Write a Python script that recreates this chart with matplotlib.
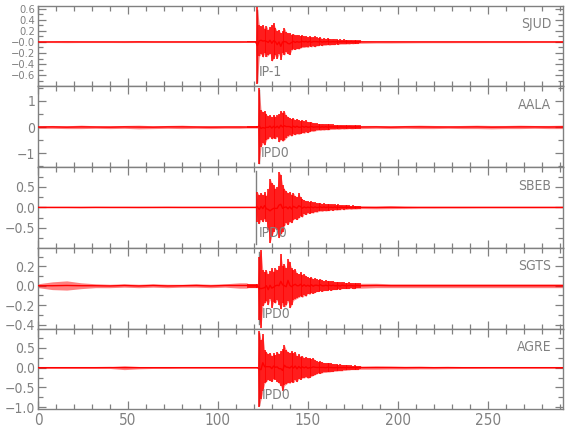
import numpy as np
import matplotlib
matplotlib.use("Agg")
import matplotlib.pyplot as plt
from matplotlib.ticker import MultipleLocator

plt.rcParams['font.family'] = ['Liberation Sans Narrow', 'DejaVu Sans']
plt.rcParams['font.stretch'] = 'condensed'

# sample times (s): sparse before/after the event, 1 s through the coda
t = np.concatenate([np.arange(0, 113, 8), np.arange(116, 180, 1), np.arange(180, 293, 8)])

stations = ["SJUD", "AALA", "SBEB", "SGTS", "AGRE"]
pick_labels = ["IP-1", "IPD0", "IPD0", "IPD0", "IPD0"]
pick_times = [121.8, 122.9, 121.3, 123.0, 123.1]

# upper / lower trace envelopes
sjud_hi = [0.012, 0.012, 0.015, 0.012, 0.012, 0.012, 0.012, 0.014, 0.012, 0.012, 0.012, 0.012, 0.012, 0.012, 0.012,
           0.01, 0.01, 0.01, 0.01, 0.01, 0.01, 0.62, 0.30,
           0.28, 0.31, 0.24, 0.29, 0.22, 0.27, 0.30, 0.34,
           0.25, 0.20, 0.22, 0.16, 0.20, 0.25, 0.18, 0.16,
           0.16, 0.13, 0.15, 0.12, 0.13, 0.12, 0.11, 0.12,
           0.10, 0.11, 0.09, 0.10, 0.08, 0.09, 0.10, 0.08,
           0.07, 0.08, 0.06, 0.07, 0.06, 0.07, 0.06, 0.05,
           0.06, 0.05, 0.05, 0.04, 0.05, 0.04, 0.05, 0.04,
           0.04, 0.035, 0.04, 0.03, 0.035, 0.03, 0.03, 0.03,
           0.025, 0.02, 0.02, 0.018, 0.016, 0.015, 0.015, 0.014, 0.014, 0.013, 0.013, 0.013, 0.012, 0.012, 0.012]
sjud_lo = [-0.012, -0.012, -0.014, -0.012, -0.012, -0.012, -0.013, -0.012, -0.012, -0.012, -0.012, -0.012, -0.012, -0.012, -0.012,
           -0.01, -0.01, -0.01, -0.01, -0.01, -0.01, -0.75, -0.26,
           -0.22, -0.28, -0.20, -0.27, -0.24, -0.21, -0.35, -0.30,
           -0.24, -0.30, -0.22, -0.32, -0.20, -0.24, -0.18, -0.22,
           -0.23, -0.15, -0.13, -0.14, -0.12, -0.13, -0.11, -0.10,
           -0.10, -0.09, -0.10, -0.08, -0.09, -0.08, -0.09, -0.07,
           -0.07, -0.06, -0.07, -0.06, -0.06, -0.05, -0.06, -0.05,
           -0.05, -0.05, -0.04, -0.05, -0.04, -0.04, -0.04, -0.04,
           -0.035, -0.04, -0.03, -0.035, -0.03, -0.03, -0.03, -0.025,
           -0.025, -0.02, -0.02, -0.018, -0.016, -0.015, -0.015, -0.014, -0.014, -0.013, -0.013, -0.013, -0.012, -0.012, -0.012]

aala_hi = [0.05, 0.06, 0.05, 0.07, 0.05, 0.05, 0.06, 0.07, 0.05, 0.06, 0.07, 0.05, 0.05, 0.05, 0.05,
           0.04, 0.04, 0.04, 0.04, 0.04, 0.04, 0.04, 1.50,
           0.65, 0.58, 0.62, 0.48, 0.42, 0.45, 0.38, 0.47,
           0.40, 0.44, 0.50, 0.62, 0.55, 0.60, 0.45, 0.40,
           0.35, 0.30, 0.34, 0.28, 0.32, 0.26, 0.24, 0.27,
           0.22, 0.25, 0.20, 0.18, 0.20, 0.16, 0.15, 0.14,
           0.13, 0.12, 0.13, 0.11, 0.12, 0.10, 0.11, 0.10,
           0.10, 0.09, 0.09, 0.08, 0.09, 0.08, 0.08, 0.07,
           0.07, 0.08, 0.07, 0.06, 0.07, 0.06, 0.07, 0.06,
           0.06, 0.06, 0.05, 0.06, 0.07, 0.06, 0.05, 0.06, 0.07, 0.06, 0.06, 0.07, 0.06, 0.06, 0.07]
aala_lo = [-0.05, -0.05, -0.06, -0.06, -0.05, -0.06, -0.05, -0.07, -0.06, -0.05, -0.06, -0.05, -0.06, -0.05, -0.05,
           -0.04, -0.04, -0.04, -0.04, -0.04, -0.04, -0.04, -1.42,
           -0.76, -0.62, -0.70, -0.50, -0.45, -0.38, -0.46, -0.42,
           -0.45, -0.38, -0.58, -0.48, -0.55, -0.50, -0.42, -0.36,
           -0.32, -0.35, -0.28, -0.30, -0.26, -0.28, -0.25, -0.22,
           -0.24, -0.20, -0.22, -0.18, -0.16, -0.17, -0.15, -0.13,
           -0.12, -0.13, -0.11, -0.12, -0.10, -0.11, -0.10, -0.09,
           -0.09, -0.09, -0.08, -0.09, -0.08, -0.07, -0.08, -0.07,
           -0.07, -0.06, -0.07, -0.07, -0.06, -0.06, -0.06, -0.06,
           -0.06, -0.05, -0.06, -0.05, -0.06, -0.06, -0.05, -0.06, -0.06, -0.07, -0.06, -0.06, -0.05, -0.06, -0.06]

sbeb_hi = [0.012, 0.012, 0.012, 0.012, 0.014, 0.012, 0.012, 0.012, 0.012, 0.014, 0.012, 0.012, 0.012, 0.012, 0.012,
           0.01, 0.01, 0.01, 0.01, 0.01, 0.01, 0.37, 0.30,
           0.35, 0.30, 0.37, 0.28, 0.45, 0.70, 0.60, 0.55,
           0.45, 0.50, 0.86, 0.80, 0.55, 0.45, 0.40, 0.35,
           0.38, 0.30, 0.35, 0.28, 0.26, 0.34, 0.25, 0.20,
           0.18, 0.16, 0.15, 0.14, 0.15, 0.12, 0.13, 0.11,
           0.10, 0.11, 0.09, 0.10, 0.08, 0.09, 0.08, 0.08,
           0.07, 0.08, 0.06, 0.07, 0.06, 0.06, 0.05, 0.06,
           0.05, 0.05, 0.04, 0.05, 0.04, 0.04, 0.04, 0.035,
           0.03, 0.03, 0.035, 0.025, 0.02, 0.02, 0.018, 0.018, 0.016, 0.015, 0.015, 0.015, 0.015, 0.014, 0.014]
sbeb_lo = [-0.012, -0.012, -0.012, -0.014, -0.012, -0.012, -0.012, -0.013, -0.012, -0.012, -0.012, -0.012, -0.012, -0.012, -0.012,
           -0.01, -0.01, -0.01, -0.01, -0.01, -0.01, -0.35, -0.40,
           -0.30, -0.36, -0.28, -0.35, -0.55, -0.87, -0.70, -0.60,
           -0.50, -0.55, -0.75, -0.65, -0.60, -0.45, -0.38, -0.42,
           -0.35, -0.38, -0.30, -0.28, -0.30, -0.26, -0.22, -0.24,
           -0.16, -0.18, -0.14, -0.15, -0.13, -0.14, -0.11, -0.12,
           -0.10, -0.09, -0.10, -0.08, -0.09, -0.08, -0.08, -0.07,
           -0.08, -0.06, -0.07, -0.06, -0.06, -0.05, -0.06, -0.05,
           -0.05, -0.04, -0.05, -0.04, -0.04, -0.04, -0.035, -0.035,
           -0.03, -0.035, -0.03, -0.025, -0.02, -0.02, -0.018, -0.018, -0.016, -0.015, -0.015, -0.015, -0.015, -0.014, -0.014]

sgts_hi = [0.02, 0.04, 0.05, 0.03, 0.02, 0.015, 0.02, 0.015, 0.02, 0.015, 0.015, 0.02, 0.015, 0.02, 0.03,
           0.03, 0.02, 0.02, 0.02, 0.02, 0.02, 0.02, 0.30,
           0.37, 0.16, 0.14, 0.16, 0.12, 0.15, 0.18, 0.14,
           0.18, 0.16, 0.20, 0.33, 0.20, 0.22, 0.18, 0.27,
           0.24, 0.18, 0.16, 0.17, 0.13, 0.12, 0.14, 0.11,
           0.12, 0.10, 0.09, 0.08, 0.09, 0.07, 0.08, 0.07,
           0.06, 0.07, 0.06, 0.05, 0.06, 0.05, 0.05, 0.05,
           0.05, 0.04, 0.04, 0.04, 0.035, 0.04, 0.035, 0.03,
           0.03, 0.035, 0.03, 0.03, 0.025, 0.03, 0.03, 0.025,
           0.025, 0.025, 0.02, 0.02, 0.02, 0.02, 0.02, 0.02, 0.02, 0.02, 0.02, 0.02, 0.02, 0.02, 0.02]
sgts_lo = [-0.02, -0.04, -0.045, -0.03, -0.02, -0.02, -0.015, -0.02, -0.015, -0.02, -0.015, -0.015, -0.02, -0.015, -0.025,
           -0.025, -0.02, -0.02, -0.02, -0.02, -0.02, -0.02, -0.35,
           -0.43, -0.21, -0.18, -0.16, -0.20, -0.14, -0.23, -0.17,
           -0.18, -0.15, -0.20, -0.24, -0.18, -0.22, -0.20, -0.16,
           -0.23, -0.20, -0.15, -0.14, -0.13, -0.12, -0.11, -0.12,
           -0.10, -0.11, -0.08, -0.09, -0.07, -0.08, -0.07, -0.06,
           -0.06, -0.05, -0.06, -0.05, -0.05, -0.05, -0.04, -0.05,
           -0.04, -0.04, -0.04, -0.035, -0.04, -0.03, -0.03, -0.03,
           -0.03, -0.03, -0.025, -0.03, -0.03, -0.025, -0.025, -0.025,
           -0.025, -0.02, -0.02, -0.02, -0.02, -0.02, -0.02, -0.02, -0.02, -0.02, -0.02, -0.02, -0.02, -0.02, -0.02]

agre_hi = [0.02, 0.02, 0.02, 0.02, 0.02, 0.025, 0.05, 0.03, 0.02, 0.02, 0.015, 0.015, 0.015, 0.015, 0.015,
           0.015, 0.015, 0.015, 0.015, 0.015, 0.015, 0.015, 0.92,
           0.70, 0.85, 0.45, 0.40, 0.35, 0.38, 0.30, 0.36,
           0.32, 0.40, 0.35, 0.42, 0.46, 0.57, 0.45, 0.40,
           0.38, 0.42, 0.36, 0.40, 0.30, 0.34, 0.28, 0.30,
           0.25, 0.28, 0.24, 0.25, 0.22, 0.24, 0.20, 0.17,
           0.15, 0.16, 0.14, 0.13, 0.12, 0.13, 0.12, 0.11,
           0.10, 0.09, 0.10, 0.08, 0.09, 0.08, 0.08, 0.07,
           0.07, 0.06, 0.06, 0.05, 0.06, 0.05, 0.05, 0.05,
           0.04, 0.045, 0.04, 0.035, 0.035, 0.03, 0.03, 0.02, 0.018, 0.015, 0.015, 0.015, 0.015, 0.015, 0.015]
agre_lo = [-0.02, -0.02, -0.02, -0.02, -0.02, -0.02, -0.05, -0.03, -0.02, -0.02, -0.015, -0.015, -0.015, -0.015, -0.015,
           -0.015, -0.015, -0.015, -0.015, -0.015, -0.015, -0.015, -0.99,
           -0.80, -0.60, -0.40, -0.35, -0.30, -0.33, -0.35, -0.28,
           -0.30, -0.36, -0.40, -0.47, -0.60, -0.45, -0.42, -0.38,
           -0.40, -0.35, -0.38, -0.32, -0.36, -0.28, -0.30, -0.26,
           -0.26, -0.24, -0.27, -0.25, -0.22, -0.20, -0.18, -0.16,
           -0.14, -0.15, -0.13, -0.12, -0.12, -0.11, -0.11, -0.10,
           -0.10, -0.09, -0.09, -0.08, -0.08, -0.08, -0.07, -0.07,
           -0.06, -0.06, -0.05, -0.05, -0.05, -0.05, -0.05, -0.04,
           -0.04, -0.04, -0.035, -0.035, -0.03, -0.03, -0.025, -0.02, -0.018, -0.015, -0.015, -0.015, -0.015, -0.015, -0.015]

highs = [sjud_hi, aala_hi, sbeb_hi, sgts_hi, agre_hi]
lows = [sjud_lo, aala_lo, sbeb_lo, sgts_lo, agre_lo]

ylims = [(-0.80, 0.65), (-1.53, 1.55), (-0.985, 0.98), (-0.44, 0.39), (-1.05, 0.99)]
yticks = [[-0.6, -0.4, -0.2, 0.0, 0.2, 0.4, 0.6], [-1, 0, 1], [-0.5, 0.0, 0.5],
          [-0.4, -0.2, 0.0, 0.2], [-1.0, -0.5, 0.0, 0.5]]
yticklabels = [["\u22120.6", "\u22120.4", "\u22120.2", "\u22120.0", "0.2", "0.4", "0.6"],
               ["\u22121", "0", "1"],
               ["\u22120.5", "0.0", "0.5"],
               ["\u22120.4", "\u22120.2", "0.0", "0.2"],
               ["\u22121.0", "\u22120.5", "0.0", "0.5"]]
yminor = [0.1, 0.5, 0.25, 0.1, 0.25]
ylabelsize = [8, 10, 10, 10, 10]

grey = "#808080"
red = "#ff0000"

fig, axes = plt.subplots(5, 1, sharex=True, figsize=(5.8, 4.4), dpi=100)
fig.subplots_adjust(left=0.0655, right=0.971, top=0.987, bottom=0.070, hspace=0)

for i, ax in enumerate(axes):
    hi = np.array(highs[i])
    lo = np.array(lows[i])
    dense = np.gradient(t) <= 1.5   # texture only where sampling is fine
    ax.axvline(pick_times[i], ymin=0.05, ymax=0.95, color=grey, lw=1.0, zorder=1)
    ax.fill_between(t, lo, hi, color=red, alpha=0.5, lw=0, zorder=2)
    ax.vlines(t[dense], lo[dense], hi[dense], color=red, lw=1.1, zorder=3)
    ax.plot(t, (hi + lo) / 2, color=red, lw=1.0, zorder=3)

    ax.set_xlim(0, 292)
    ax.set_ylim(*ylims[i])
    ax.set_yticks(yticks[i])
    ax.set_yticklabels(yticklabels[i])
    ax.yaxis.set_minor_locator(MultipleLocator(yminor[i]))
    ax.xaxis.set_major_locator(MultipleLocator(50))
    ax.xaxis.set_minor_locator(MultipleLocator(10))
    ax.tick_params(which="both", direction="in", top=True, right=True, color=grey,
                   labelcolor=grey, width=0.9, pad=2)
    ax.tick_params(axis="y", labelsize=ylabelsize[i])
    ax.tick_params(which="major", length=6)
    ax.tick_params(which="minor", length=3.5)
    for s in ax.spines.values():
        s.set_color(grey)
        s.set_linewidth(1.0)

    ax.text(0.977, 0.77, stations[i], transform=ax.transAxes, ha="right", va="center",
            color=grey, fontsize=10)
    ax.text(pick_times[i] + 1.2, ylims[i][0] + 0.18 * (ylims[i][1] - ylims[i][0]), pick_labels[i],
            ha="left", va="center", color=grey, fontsize=10)

axes[-1].set_xticks([0, 50, 100, 150, 200, 250])
axes[-1].tick_params(axis="x", labelsize=11, pad=3)

fig.savefig("out.png", dpi=100)
